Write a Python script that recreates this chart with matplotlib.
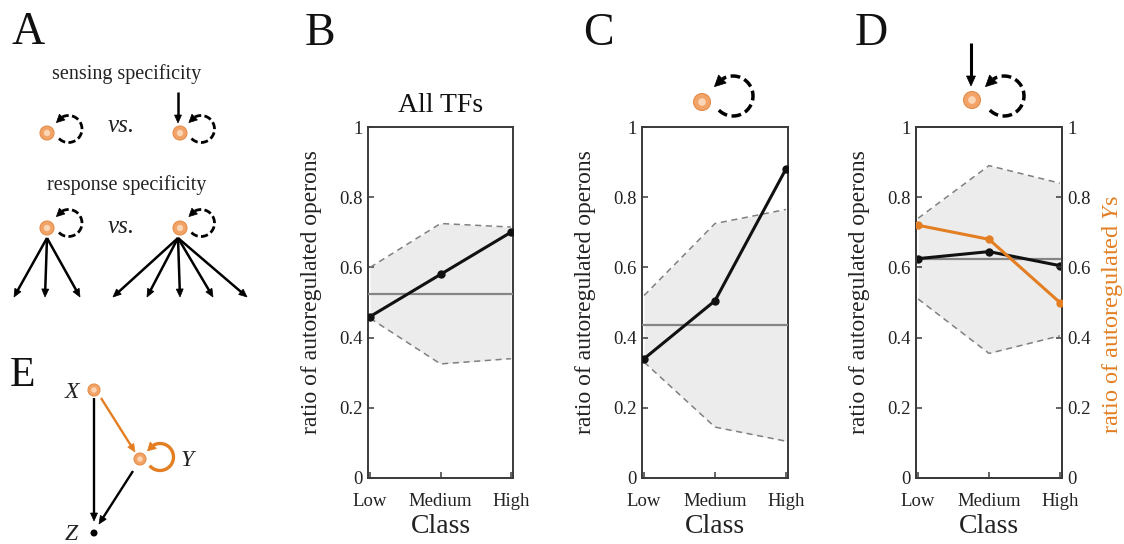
import numpy as np
import matplotlib
matplotlib.use('Agg')
import matplotlib.pyplot as plt
from matplotlib.patches import Circle, Polygon

plt.rcParams['font.family'] = ['Liberation Serif', 'DejaVu Serif']
plt.rcParams['mathtext.fontset'] = 'custom'
plt.rcParams['mathtext.rm'] = 'Liberation Serif'
plt.rcParams['mathtext.it'] = 'Liberation Serif:italic'

# ---------------- data ----------------
classes = ['Low', 'Medium', 'High']
yticks = [0, 0.2, 0.4, 0.6, 0.8, 1]
ytick_labels = ['0', '0.2', '0.4', '0.6', '0.8', '1']

b_ratio = [0.46, 0.58, 0.70]
b_mean = 0.525
b_upper = [0.60, 0.725, 0.715]
b_lower = [0.455, 0.325, 0.34]

c_ratio = [0.34, 0.505, 0.88]
c_mean = 0.435
c_upper = [0.52, 0.725, 0.765]
c_lower = [0.33, 0.145, 0.105]

d_ratio = [0.625, 0.645, 0.605]
d_mean = 0.625
d_upper = [0.74, 0.89, 0.84]
d_lower = [0.51, 0.355, 0.405]
d_ys = [0.72, 0.68, 0.50]

ORANGE = '#E37E22'
SPINE = '#3a3a3a'

W, H = 1124, 544
fig = plt.figure(figsize=(W / 100, H / 100), dpi=100)


def axrect(l, t, r, b):
    return [l / W, 1 - b / H, (r - l) / W, (b - t) / H]


def style(ax):
    for s in ax.spines.values():
        s.set_color(SPINE)
        s.set_linewidth(1.4)
    ax.tick_params(direction='in', length=4, width=1.1, color=SPINE,
                   labelsize=13.5, labelcolor='#222222')
    ax.tick_params(axis='x', pad=10.5)
    ax.tick_params(axis='y', pad=4)


def panel(ax, ratio, mean, upper, lower):
    x = np.arange(1, len(classes) + 1)
    ax.fill_between(x, lower, upper, color='#ececec', lw=0, zorder=1)
    ax.plot(x, upper, ls=(0, (4, 3)), color='#808080', lw=1.1, zorder=2)
    ax.plot(x, lower, ls=(0, (4, 3)), color='#808080', lw=1.1, zorder=2)
    ax.axhline(mean, color='#858585', lw=1.6, zorder=3)
    ax.plot(x, ratio, color='#111111', lw=2.2, marker='o', ms=5, zorder=4)
    ax.set_xlim(0.97, 3.03)
    ax.set_ylim(0, 1)
    ax.set_xticks(x, classes)
    ax.set_yticks(yticks, ytick_labels)
    style(ax)
    ax.set_ylabel('ratio of autoregulated operons', fontsize=17, color='#222222')
    ax.yaxis.set_label_coords(-0.317, 0.53)
    ax.set_xlabel('Class', fontsize=20, color='#222222')
    ax.xaxis.set_label_coords(0.5, -0.103)


axB = fig.add_axes(axrect(368, 127, 513, 478))
panel(axB, b_ratio, b_mean, b_upper, b_lower)
axB.set_title('All TFs', fontsize=20, pad=11, color='#111111')

axC = fig.add_axes(axrect(642, 127, 788, 478))
panel(axC, c_ratio, c_mean, c_upper, c_lower)

axD = fig.add_axes(axrect(916, 127, 1062, 478))
panel(axD, d_ratio, d_mean, d_upper, d_lower)
axD2 = axD.twinx()
axD2.plot(np.arange(1, len(classes) + 1), d_ys, color=ORANGE, lw=2.2,
          marker='o', ms=5, zorder=5)
axD2.set_ylim(0, 1)
axD2.set_yticks(yticks, ytick_labels)
style(axD2)
axD2.set_ylabel(r'ratio of autoregulated $\mathit{Y}$s', fontsize=17.5, color=ORANGE)
axD2.yaxis.set_label_coords(1.26, 0.467)

# ---------------- overlay for schematics ----------------
ov = fig.add_axes([0, 0, 1, 1], zorder=10)
ov.set_xlim(0, W)
ov.set_ylim(H, 0)
ov.axis('off')
ov.patch.set_visible(False)


def head_at(base, d, L=8, Wd=7, color='k'):
    base = np.array(base, float)
    d = np.array(d, float)
    d /= np.hypot(*d)
    n = np.array([-d[1], d[0]])
    tip = base + d * L
    pts = [tip, base + n * Wd / 2, base - n * Wd / 2]
    ov.add_patch(Polygon(pts, closed=True, fc=color, ec=color, lw=0.5,
                         joinstyle='miter', zorder=7))


def arrow(frm, tip, color='k', lw=1.6, L=8, Wd=7):
    frm = np.array(frm, float)
    tip = np.array(tip, float)
    d = tip - frm
    d /= np.hypot(*d)
    base = tip - d * L
    end = tip - d * L * 0.8
    ov.plot([frm[0], end[0]], [frm[1], end[1]], color=color, lw=lw,
            solid_capstyle='butt', zorder=6)
    head_at(base, d, L, Wd, color)


def loop(cx, cy, r, color='k', lw=2.0, dashes=(2.6, 1.2), t0=-135, t1=118,
         L=8, Wd=8, hdir=(-0.72, 0.69)):
    th = np.radians(np.linspace(t0, t1, 200))
    xs = cx + r * np.cos(th)
    ys = cy - r * np.sin(th)
    ls = (0, dashes) if dashes else '-'
    ov.plot(xs, ys, color=color, lw=lw, ls=ls, dash_capstyle='butt',
            solid_capstyle='butt', zorder=6)
    head_at((xs[-1], ys[-1]), hdir, L, Wd, color)


def node(x, y, r):
    ov.add_patch(Circle((x, y), r, fc='#F2A468', ec='#E58E4A', lw=0.8, zorder=8))
    ov.add_patch(Circle((x, y), r * 0.45, fc='#FBD6B6', ec='none', zorder=9))


# panel letters
for lx, ly, s in [(12, 44, 'A'), (305, 45, 'B'), (583, 45, 'C'), (855, 45, 'D'), (10, 386, 'E')]:
    ov.text(lx, ly, s, fontsize=33 if s != 'E' else 30, va='baseline', ha='left', color='#111111')

# panel A
ov.text(127, 79, 'sensing specificity', fontsize=14.5, ha='center', va='baseline', color='#222222')
node(47, 133, 7)
loop(68.5, 129, 13.5)
ov.text(108, 132, 'vs.', fontsize=18, style='italic', va='baseline', color='#222222')
node(180, 133, 7)
loop(201, 129, 13.5)
arrow((178, 92), (178, 123), lw=1.8)

ov.text(127, 190, 'response specificity', fontsize=14.5, ha='center', va='baseline', color='#222222')
node(47, 228, 7)
loop(68.5, 223, 13.5)
ov.text(108, 233, 'vs.', fontsize=18, style='italic', va='baseline', color='#222222')
node(180, 228, 7)
loop(201, 223, 13.5)
for tx in [14, 45, 80]:
    arrow((47, 238), (tx, 297), lw=1.8)
for tx in [113, 147, 180, 213, 247]:
    arrow((178, 238), (tx, 297), lw=1.8)

# panel C icon
node(702, 102, 8.5)
loop(733, 96, 20, lw=2.5, dashes=(2.8, 1.3), t1=122, L=11, Wd=11)

# panel D icon
node(972, 100, 8.5)
loop(1004, 96, 20, lw=2.5, dashes=(2.8, 1.3), t1=122, L=11, Wd=11)
arrow((971, 43), (971, 86), lw=2.2, L=10, Wd=9)

# panel E
node(94, 390, 6)
ov.text(79, 392, 'X', fontsize=17, style='italic', ha='right', va='center', color='#222222')
node(140, 459, 6)
loop(160, 457, 13.5, color=ORANGE, lw=2.4, dashes=None, t0=-140, t1=120, L=8, Wd=9)
ov.text(181, 460, 'Y', fontsize=17, style='italic', ha='left', va='center', color='#222222')
ov.add_patch(Circle((94, 533), 3.5, fc='k', ec='none', zorder=8))
ov.text(78, 534, 'Z', fontsize=17, style='italic', ha='right', va='center', color='#222222')
arrow((94, 398), (94, 521), lw=1.7)
arrow((101, 398), (135, 452), color=ORANGE, lw=1.7)
arrow((133, 471), (99, 524), lw=1.7)

fig.savefig('out.png', dpi=100)
